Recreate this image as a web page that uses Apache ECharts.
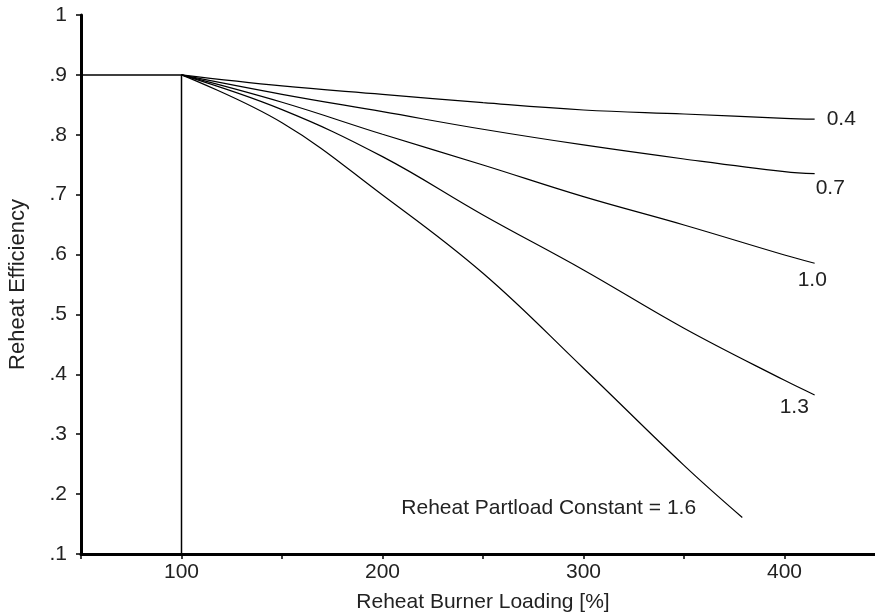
<!DOCTYPE html>
<html>
<head>
<meta charset="utf-8">
<script src="https://cdn.jsdelivr.net/npm/echarts@6/dist/echarts.min.js"></script>
<style>
html,body{margin:0;padding:0;background:#fff;overflow:hidden;}
#main{width:875px;height:613px;}
</style>
</head>
<body>
<div id="main"></div>
<script>
// ---- data ----
const loadX = [100, 150, 200, 250, 300, 350, 400, 415];
const eff04 = [0.9, 0.8815, 0.8676, 0.8536, 0.8414, 0.8347, 0.8275, 0.826];
const eff07 = [0.9, 0.8676, 0.8386, 0.8092, 0.783, 0.7596, 0.7384, 0.735];
const eff10 = [0.9, 0.8543, 0.8008, 0.7496, 0.6967, 0.6494, 0.5993, 0.5855];
const eff13 = [0.9, 0.842, 0.7635, 0.6661, 0.5743, 0.477, 0.39, 0.3656];
const loadX16 = [100, 150, 200, 250, 300, 350, 379];
const eff16 = [0.9, 0.82, 0.6995, 0.5688, 0.4102, 0.248, 0.161];
const baseX = [50, 100, 100];
const baseY = [0.9, 0.9, 0.1];
const curveLabels = ['0.4', '0.7', '1.0', '1.3', 'Reheat Partload Constant = 1.6'];
const xTickLabels = {100: '100', 200: '200', 300: '300', 400: '400'};
const yTickLabels = ['.1', '.2', '.3', '.4', '.5', '.6', '.7', '.8', '.9', '1'];

const FONT = 'Liberation Sans, Arial, sans-serif';
const TXT = '#222';

function pairs(xs, ys) { return xs.map((x, i) => [x, ys[i]]); }

const labelOffsets = [[12, 0], [1, 14], [-17, 17], [-35, 12], [-341, -9]];

function curve(xs, ys, idx) {
  return {
    type: 'line',
    data: pairs(xs, ys),
    smooth: 0.4,
    symbol: 'none',
    lineStyle: { color: '#000', width: 1.2 },
    endLabel: {
      show: true,
      formatter: curveLabels[idx],
      distance: 0,
      offset: labelOffsets[idx],
      align: 'left',
      verticalAlign: 'middle',
      color: TXT,
      fontFamily: FONT,
      fontSize: 21
    },
    silent: true,
    animation: false
  };
}

const chart = echarts.init(document.getElementById('main'), null, { renderer: 'canvas', width: 875, height: 613 });
chart.setOption({
  backgroundColor: '#fff',
  animation: false,
  grid: { left: 81, top: 15, width: 804, height: 539, containLabel: false, outerBoundsMode: 'none' },
  xAxis: {
    type: 'value',
    min: 50, max: 450, interval: 50,
    name: 'Reheat Burner Loading [%]',
    nameLocation: 'middle',
    nameGap: 38,
    nameTextStyle: { color: TXT, fontFamily: FONT, fontSize: 21 },
    axisLine: { show: true, onZero: false, lineStyle: { color: '#000', width: 3 } },
    axisTick: { show: true, inside: false, length: 5, lineStyle: { color: '#000', width: 1.5 } },
    axisLabel: {
      color: TXT, fontFamily: FONT, fontSize: 21, margin: 8,
      formatter: v => xTickLabels[v] || ''
    },
    splitLine: { show: false }
  },
  yAxis: {
    type: 'value',
    min: 0.1, max: 1, interval: 0.1,
    name: 'Reheat Efficiency',
    nameLocation: 'middle',
    nameGap: 52,
    nameTextStyle: { color: TXT, fontFamily: FONT, fontSize: 22 },
    axisLine: { show: true, onZero: false, lineStyle: { color: '#000', width: 3 } },
    axisTick: { show: true, inside: false, length: 5, lineStyle: { color: '#000', width: 1.5 } },
    axisLabel: {
      color: TXT, fontFamily: FONT, fontSize: 21, margin: 14,
      formatter: v => yTickLabels[Math.round(v * 10) - 1] || ''
    },
    splitLine: { show: false }
  },
  series: [
    {
      type: 'line',
      data: pairs(baseX, baseY),
      symbol: 'none',
      lineStyle: { color: '#000', width: 1.5 },
      silent: true,
      animation: false
    },
    curve(loadX, eff04, 0),
    curve(loadX, eff07, 1),
    curve(loadX, eff10, 2),
    curve(loadX, eff13, 3),
    curve(loadX16, eff16, 4)
  ]
});
</script>
</body>
</html>
